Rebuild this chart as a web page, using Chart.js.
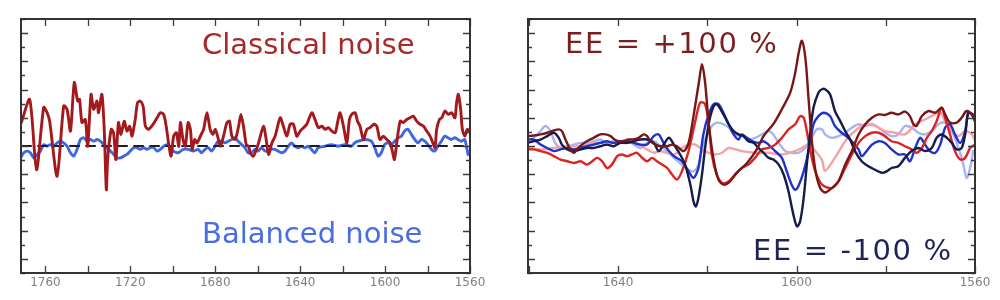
<!DOCTYPE html>
<html>
<head>
<meta charset="utf-8">
<script src="https://cdn.jsdelivr.net/npm/chart.js@4/dist/chart.umd.min.js"></script>
<style>
  html, body { margin: 0; padding: 0; background: #ffffff; }
  #wrap { position: relative; width: 1000px; height: 300px; overflow: hidden; background: #fff; }
  canvas { position: absolute; top: 0; }
  .lbl { position: absolute; font-family: "DejaVu Sans", sans-serif; font-size: 29px; line-height: 1; white-space: nowrap; }
  .ee { letter-spacing: 1.6px; }
</style>
</head>
<body>
<div id="wrap">
  <canvas id="left" width="500" height="300" style="left:0"></canvas>
  <canvas id="right" width="500" height="300" style="left:500px"></canvas>
  <div class="lbl" style="left:202px; top:30px; color:#a62a2a;">Classical noise</div>
  <div class="lbl" style="left:202px; top:219px; color:#4a6de0;">Balanced noise</div>
  <div class="lbl ee" style="left:565px; top:29px; color:#7a1e1e;">EE = +100 %</div>
  <div class="lbl ee" style="left:753px; top:236px; color:#1f2458;">EE = -100 %</div>
</div>
<script>
// ---------- Left panel data (wavenumber, arbitrary units) ----------
const classicalX = [1771.3,1767.4,1764.2,1760.8,1759.2,1758.0,1754.5,1751.4,1749.8,1748.2,1746.4,1744.8,1743.9,1742.8,1741.2,1740.1,1738.5,1737.3,1735.7,1735.0,1733.4,1732.3,1731.3,1730.7,1729.0,1727.9,1726.8,1725.6,1724.4,1722.9,1721.6,1720.3,1719.2,1717.7,1716.6,1715.3,1714.0,1712.9,1711.4,1709.3,1707.4,1705.9,1704.3,1703.1,1702.0,1700.8,1699.6,1698.3,1697.2,1696.4,1695.2,1694.1,1692.8,1691.7,1690.9,1689.7,1688.6,1687.0,1685.5,1683.9,1682.4,1681.1,1680.0,1678.9,1677.6,1676.1,1674.5,1673.3,1672.2,1670.6,1669.0,1667.9,1666.7,1665.4,1664.3,
  1663.5,1662.0,1659.6,1657.3,1656.0,1654.9,1653.3,1651.8,1649.4,1647.9,1646.3,1644.7,1643.2,1641.6,1640.0,1638.4,1636.9,1634.5,1633.0,1631.4,1629.8,1628.2,1626.7,1625.1,1623.5,1622.4,1621.2,1619.6,1618.0,1616.8,1615.7,1614.1,1613.0,1611.8,1610.2,1608.6,1607.1,1605.2,1603.9,1602.4,1600.8,1599.2,1597.6,1596.4,1595.6,1594.5,1592.9,1591.4,1589.8,1588.2,1586.7,1585.1,1583.5,1581.9,1580.4,1578.8,1577.5,1576.5,1575.7,1574.4,1573.3,1571.8,1570.2,1568.6,1567.1,1566.3,1565.5,1564.4,1563.6,1562.4,1561.3,1560.3];
const classicalY = [0.84,1.65,-0.84,1.37,1.18,0.88,-1.07,1.42,1.30,0.53,2.25,1.59,1.65,0.83,0.94,-0.01,1.83,1.30,1.59,1.18,1.83,0.59,-1.55,-0.48,0.59,0.47,-0.48,0.83,0.41,0.88,0.53,0.70,0.35,0.94,1.54,1.59,1.42,0.70,0.59,0.77,1.00,1.18,1.12,0.70,0.11,-0.36,0.35,0.47,-0.01,0.83,0.23,-0.01,0.83,0.59,-0.12,0.23,0.11,0.35,0.59,1.18,0.59,0.41,0.59,0.35,-0.01,0.35,0.83,0.88,0.35,0.23,0.70,1.12,0.70,0.05,-0.01,
  -0.24,-0.36,0.11,0.70,0.23,-0.30,0.11,0.35,1.00,0.70,0.35,0.77,0.77,0.35,0.53,0.65,0.77,1.18,0.94,0.65,0.70,0.59,0.65,0.53,0.47,0.83,1.18,0.70,0.11,0.94,1.12,1.18,0.88,0.70,0.23,0.59,0.65,0.77,0.70,0.23,0.35,0.23,0.11,-0.24,-0.48,0.11,0.88,0.83,0.94,1.00,1.06,0.88,0.77,0.70,0.53,0.35,0.11,-0.06,0.59,0.94,1.00,1.24,1.12,1.18,1.00,1.54,1.83,1.30,0.59,0.35,0.59,0.53];
const balancedX = [1771.8,1770.2,1768.6,1767.1,1765.5,1763.9,1762.4,1760.8,1759.2,1757.7,1756.1,1754.5,1752.9,1751.4,1749.8,1748.2,1746.7,1745.1,1743.5,1741.9,1740.4,1738.8,1737.2,1735.7,1734.1,1732.5,1731.0,1729.4,1727.8,1726.3,1724.7,1723.1,1721.6,1720.0,1718.4,1716.9,1715.3,1713.7,1712.2,1710.6,1709.0,1707.4,1705.9,1704.3,1702.7,1701.2,1699.8,1697.4,1695.1,1692.7,1690.4,1688.0,1686.5,1684.8,1683.3,1681.7,1680.1,1678.6,1677.0,1675.4,1673.9,1672.3,1670.7,1669.2,1667.6,1666.0,1664.5,1662.9,1661.3,1659.8,1658.2,1656.6,1655.1,1653.5,1651.9,1650.4,1648.8,1647.2,1645.6,1644.1,1642.5,1640.9,1639.4,1637.8,1636.2,1634.7,1633.1,1631.5,1628.4,1625.3,1622.1,1619.0,1615.9,1614.3,1612.7,1609.6,1606.5,1604.9,1603.3,1601.8,1600.2,1598.6,1597.0,1595.5,1593.9,1592.3,1590.8,1589.2,1587.6,1586.0,1584.5,1582.9,1581.3,1579.8,1578.2,1576.6,1575.1,1573.5,1571.9,1570.4,1568.8,1567.2,1565.6,1564.1,1562.5,1561.7,1560.9];
const balancedY = [-0.42,-0.24,-0.18,-0.24,-0.42,-0.30,-0.18,0.05,-0.01,0.05,-0.01,0.11,0.17,0.11,-0.01,-0.24,-0.36,-0.12,0.23,0.29,0.17,0.23,0.17,0.23,0.17,0.05,-0.06,-0.18,-0.30,-0.42,-0.42,-0.36,-0.30,-0.18,-0.06,-0.06,-0.12,-0.06,-0.12,-0.06,-0.06,-0.18,-0.12,-0.01,0.05,-0.06,-0.18,-0.24,-0.12,-0.12,-0.18,-0.12,-0.24,-0.12,-0.06,-0.18,-0.01,0.17,0.17,0.11,0.17,0.23,0.29,0.17,0.05,-0.06,-0.24,-0.24,-0.12,-0.18,-0.06,-0.18,-0.18,-0.12,-0.12,-0.18,-0.24,-0.18,-0.01,0.11,-0.01,-0.06,-0.01,-0.06,-0.01,-0.12,-0.24,-0.06,-0.01,0.05,-0.01,0.05,-0.01,0.11,0.17,0.23,0.17,-0.06,-0.36,-0.24,0.05,0.11,0.05,0.17,0.29,0.35,0.53,0.59,0.41,0.23,0.11,0.23,0.17,0.05,-0.12,-0.18,-0.01,0.17,0.35,0.29,0.23,0.29,0.23,0.17,0.23,-0.01,-0.30];
const baselineX = [1771, 1560];
const baselineY = [0, 0];

// ---------- Right panel data: [wavenumber, signal] ----------
const eePlus100 = [[1660.4,0.35],[1658.9,0.37],[1657.4,0.41],[1655.9,0.47],[1654.4,0.55],[1653.3,0.59],[1652.6,0.53],[1651.8,0.23],[1650.7,-0.12],[1649.9,-0.24],[1649.2,-0.12],[1648.1,0.05],[1647.0,0.17],[1645.5,0.29],[1644.0,0.41],[1642.8,0.41],[1641.7,0.35],[1640.8,0.23],[1639.9,0.17],[1638.7,0.17],[1637.6,0.23],[1636.5,0.23],[1635.4,0.29],[1634.3,0.41],[1633.5,0.35],[1632.8,0.17],[1631.6,0.05],[1630.5,-0.01],[1629.0,-0.01],[1627.9,0.05],[1626.8,-0.01],[1625.3,-0.18],[1624.2,0.11],[1623.1,1.06],[1621.9,2.25],[1621.2,2.90],[1620.5,2.25],[1619.7,0.82],[1618.6,-0.48],[1617.5,-1.19],[1616.3,-1.37],[1614.9,-1.25],[1613.4,-0.95],[1611.1,-0.60],[1608.9,-0.12],[1607.4,0.35],[1605.1,0.80],[1603.3,1.30],[1601.4,1.90],[1600.3,2.60],[1599.5,3.32],[1598.8,3.73],[1598.0,3.08],[1597.3,1.65],[1596.6,0.23],[1595.8,-0.84],[1594.7,-1.49],[1593.6,-1.65],[1592.1,-1.49],[1590.6,-1.25],[1589.1,-0.66],[1587.6,-0.18],[1586.1,0.41],[1584.6,0.77],[1583.1,1.00],[1581.6,1.12],[1580.2,1.10],[1578.7,1.18],[1577.2,1.12],[1575.7,1.22],[1574.6,1.06],[1573.8,0.77],[1573.1,0.71],[1571.9,1.06],[1570.4,1.24],[1568.9,1.18],[1567.5,1.36],[1566.7,1.12],[1565.6,0.83],[1564.1,0.83],[1563.0,1.00],[1561.9,1.24],[1560.7,1.12],[1560.0,0.88]];
const eePlus50 = [[1660.4,-0.12],[1658.9,-0.12],[1657.4,-0.18],[1655.9,-0.24],[1654.4,-0.36],[1652.9,-0.48],[1651.4,-0.54],[1649.9,-0.60],[1648.4,-0.54],[1647.0,-0.66],[1645.8,-0.54],[1644.7,-0.42],[1643.6,-0.54],[1642.5,-0.78],[1641.4,-0.66],[1640.2,-0.36],[1639.1,-0.30],[1638.0,-0.36],[1636.9,-0.30],[1635.8,-0.24],[1634.6,-0.42],[1633.5,-0.54],[1632.4,-0.42],[1631.3,-0.54],[1630.1,-0.66],[1629.0,-0.78],[1627.9,-1.01],[1626.8,-1.19],[1625.7,-0.90],[1624.2,-0.18],[1622.7,0.88],[1621.6,1.54],[1620.5,1.48],[1619.7,0.77],[1619.0,-0.30],[1617.9,-1.01],[1616.7,-1.31],[1615.2,-1.25],[1613.8,-1.01],[1612.3,-0.78],[1610.8,-0.66],[1609.3,-0.42],[1607.8,-0.12],[1606.3,-0.07],[1604.8,0.05],[1603.3,0.29],[1601.8,0.59],[1600.3,0.77],[1599.2,1.06],[1598.4,1.00],[1597.7,0.53],[1596.9,-0.18],[1595.8,-0.90],[1594.3,-1.37],[1592.1,-1.49],[1590.6,-1.25],[1589.1,-0.78],[1587.6,-0.30],[1586.1,0.11],[1584.6,0.35],[1583.1,0.47],[1581.6,0.47],[1580.2,0.35],[1578.7,0.17],[1577.2,0.11],[1575.7,-0.01],[1574.2,-0.12],[1573.1,-0.24],[1571.9,-0.07],[1570.8,0.29],[1569.7,0.53],[1568.6,0.88],[1567.5,1.36],[1566.7,1.00],[1565.6,0.41],[1564.5,-0.18],[1563.3,-0.48],[1562.2,-0.42],[1561.1,-0.07],[1560.0,0.05]];
const eePlus20 = [[1660.4,-0.07],[1657.4,-0.12],[1654.4,-0.07],[1651.4,-0.01],[1648.4,-0.01],[1645.5,0.11],[1642.5,0.11],[1639.5,0.17],[1636.5,0.11],[1633.5,-0.12],[1632.0,-0.24],[1630.5,-0.18],[1627.5,-0.30],[1625.7,-0.07],[1624.2,0.05],[1622.7,0.05],[1621.2,-0.12],[1619.7,-0.24],[1618.2,-0.30],[1616.7,-0.24],[1615.2,-0.07],[1612.3,-0.18],[1609.3,-0.24],[1606.3,-0.24],[1603.3,-0.30],[1600.3,-0.18],[1598.8,-0.07],[1597.3,0.05],[1595.8,-0.18],[1594.3,-0.50],[1593.6,-0.88],[1591.4,-0.42],[1589.1,0.17],[1586.9,0.53],[1584.6,0.77],[1582.4,0.71],[1580.2,0.53],[1577.9,0.47],[1575.7,0.41],[1573.4,0.77],[1571.2,0.94],[1569.7,1.06],[1567.8,1.18],[1566.7,0.88],[1565.2,0.53],[1563.7,0.35],[1562.2,0.53],[1560.7,0.41],[1560.0,0.17]];
const eeMinus100 = [[1660.4,0.11],[1658.9,0.17],[1657.4,0.23],[1655.9,0.35],[1654.4,0.47],[1653.3,0.29],[1652.6,0.05],[1651.4,-0.12],[1649.9,-0.18],[1648.4,-0.12],[1647.0,-0.07],[1645.5,-0.07],[1644.0,-0.01],[1642.5,0.05],[1641.0,-0.01],[1639.5,0.11],[1638.0,0.11],[1636.5,0.17],[1635.0,0.23],[1633.5,0.23],[1632.0,0.11],[1630.9,-0.18],[1629.8,0.05],[1628.6,0.29],[1627.5,0.05],[1626.1,-0.30],[1625.0,-0.66],[1623.8,-1.37],[1623.1,-1.96],[1622.6,-2.14],[1622.0,-1.84],[1621.2,-1.01],[1620.5,-0.07],[1619.7,0.77],[1619.0,1.24],[1618.2,1.48],[1617.5,1.42],[1616.4,1.12],[1615.2,0.77],[1614.1,0.53],[1613.0,0.41],[1611.9,0.35],[1610.8,0.17],[1609.6,0.11],[1608.5,-0.07],[1607.4,-0.24],[1606.3,-0.42],[1605.2,-0.48],[1604.0,-0.66],[1602.9,-1.01],[1601.8,-1.61],[1600.7,-2.44],[1599.9,-2.85],[1599.2,-2.67],[1598.4,-1.84],[1597.7,-0.66],[1596.9,0.53],[1596.2,1.36],[1595.1,1.89],[1594.3,2.01],[1593.6,2.01],[1592.5,1.83],[1591.4,1.24],[1590.2,0.88],[1589.1,0.53],[1588.0,0.23],[1586.9,-0.18],[1585.4,-0.54],[1583.9,-0.72],[1582.4,-0.84],[1580.9,-0.95],[1579.8,-0.90],[1578.7,-0.78],[1577.2,-0.72],[1575.7,-0.42],[1574.2,-0.18],[1572.7,-0.07],[1571.2,-0.18],[1569.7,-0.07],[1568.6,0.29],[1567.5,0.41],[1566.3,0.29],[1565.2,0.11],[1564.1,-0.12],[1563.0,-0.07],[1562.2,0.41],[1561.5,1.18],[1560.7,1.12],[1560.0,0.88]];
const eeMinus50 = [[1660.4,0.23],[1658.9,0.23],[1657.4,0.05],[1655.9,-0.07],[1654.4,-0.18],[1652.9,-0.12],[1651.4,-0.07],[1649.9,-0.12],[1648.4,-0.07],[1647.0,-0.01],[1645.5,0.05],[1644.0,0.11],[1642.5,0.17],[1641.0,0.11],[1639.5,0.17],[1638.0,0.17],[1636.5,0.11],[1635.0,0.05],[1633.5,0.05],[1632.0,0.35],[1630.9,0.41],[1629.8,0.11],[1628.6,-0.18],[1627.5,-0.36],[1625.7,-0.54],[1624.2,-0.90],[1623.1,-1.13],[1622.0,-0.78],[1620.9,0.41],[1619.7,1.12],[1618.6,1.48],[1617.5,1.48],[1616.4,1.18],[1615.2,0.77],[1614.1,0.41],[1613.0,0.23],[1612.3,0.41],[1611.1,0.29],[1610.0,0.17],[1608.5,0.11],[1607.4,0.17],[1606.3,0.05],[1604.8,-0.18],[1603.3,-0.42],[1602.2,-0.90],[1601.1,-1.37],[1600.3,-1.55],[1599.6,-1.43],[1598.4,-0.90],[1597.3,-0.18],[1596.2,0.77],[1595.1,1.06],[1593.9,1.18],[1592.5,1.06],[1591.4,0.71],[1589.9,0.47],[1588.4,0.29],[1587.3,0.11],[1586.1,-0.12],[1585.4,-0.36],[1584.3,-0.18],[1583.1,0.05],[1581.6,0.17],[1580.2,0.11],[1578.7,-0.12],[1577.2,-0.30],[1575.7,-0.30],[1574.6,-0.54],[1573.4,-0.07],[1572.3,0.29],[1571.2,0.05],[1570.1,-0.18],[1568.9,-0.24],[1567.8,0.05],[1566.7,0.65],[1565.6,0.77],[1564.5,0.41],[1563.3,0.11],[1562.2,0.53],[1561.5,1.18],[1560.4,1.12]];
const eeMinus20 = [[1660.4,0.17],[1658.9,0.29],[1657.4,0.53],[1656.3,0.71],[1655.2,0.53],[1654.1,0.11],[1652.9,-0.07],[1651.4,-0.01],[1649.9,0.05],[1648.4,0.11],[1647.0,0.11],[1645.5,0.17],[1644.0,0.23],[1642.5,0.11],[1641.0,0.17],[1639.5,0.11],[1638.0,0.23],[1636.5,0.05],[1635.0,-0.07],[1633.5,0.11],[1632.0,0.17],[1630.5,-0.01],[1629.0,-0.18],[1627.5,-0.42],[1625.7,-0.66],[1624.2,-0.84],[1623.1,-0.90],[1622.0,-0.66],[1620.9,0.05],[1619.7,0.53],[1618.6,0.77],[1617.5,0.83],[1616.4,0.77],[1615.2,0.65],[1613.8,0.41],[1612.3,0.35],[1610.8,0.23],[1609.3,0.29],[1607.8,0.41],[1606.3,0.53],[1605.2,0.41],[1604.0,0.11],[1602.5,-0.18],[1601.1,-0.24],[1599.6,-0.24],[1598.1,-0.07],[1596.6,0.29],[1595.5,0.59],[1594.3,0.59],[1593.6,0.41],[1592.1,0.29],[1590.6,0.35],[1589.1,0.47],[1587.6,0.65],[1586.1,0.77],[1584.6,0.71],[1583.1,0.77],[1581.6,0.65],[1580.2,0.47],[1578.7,0.35],[1577.2,0.41],[1575.7,0.71],[1574.2,0.65],[1572.7,0.47],[1571.2,0.41],[1569.7,0.53],[1568.2,0.77],[1566.7,0.83],[1565.2,0.53],[1563.7,-0.07],[1562.6,-0.66],[1561.9,-1.13],[1561.1,-0.78],[1560.4,-0.18]];

// ---------- axis ticks ----------
const leftTicks = [1560, 1580, 1600, 1620, 1640, 1660, 1680, 1700, 1720, 1740, 1760];
const rightTicks = [1560, 1580, 1600, 1620, 1640, 1660];
const labelledTicks = [1560, 1600, 1640, 1680, 1720, 1760];

// ---------- helpers ----------
const zipXY = (xs, ys) => xs.map((x, i) => ({ x: x, y: ys[i] }));
const pairsXY = (ps) => ps.map(p => ({ x: p[0], y: p[1] }));

const framePlugin = {
  id: 'frame',
  afterDatasetsDraw(chart) {
    const { ctx, chartArea: a, scales } = chart;
    const xs = scales.x, ys = scales.y;
    ctx.save();
    ctx.strokeStyle = '#3c3c3c';
    ctx.lineWidth = 1.3;
    ctx.beginPath();
    xs.ticks.forEach(t => {
      const px = Math.round(xs.getPixelForValue(t.value)) + 0.5;
      ctx.moveTo(px, a.bottom); ctx.lineTo(px, a.bottom - 7);
      ctx.moveTo(px, a.top); ctx.lineTo(px, a.top + 7);
    });
    for (let v = Math.ceil(ys.min * 2) / 2; v <= ys.max + 1e-9; v += 0.5) {
      const py = Math.round(ys.getPixelForValue(v)) + 0.5;
      const len = Math.abs(v - Math.round(v)) < 1e-9 ? 7 : 4;
      ctx.moveTo(a.left, py); ctx.lineTo(a.left + len, py);
      ctx.moveTo(a.right, py); ctx.lineTo(a.right - len, py);
    }
    ctx.stroke();
    ctx.lineWidth = 2;
    ctx.strokeStyle = '#333333';
    ctx.strokeRect(a.left, a.top, a.width, a.height);
    ctx.restore();
  }
};

function makeOptions(xMin, xMax, tickList, pad) {
  return {
    responsive: false,
    animation: false,
    events: [],
    layout: { padding: pad },
    plugins: { legend: { display: false }, tooltip: { enabled: false } },
    elements: {
      point: { radius: 0 },
      line: { tension: 0.3, borderCapStyle: 'round', borderJoinStyle: 'round' }
    },
    scales: {
      x: {
        type: 'linear', reverse: true, min: xMin, max: xMax,
        grid: { display: false, drawTicks: false },
        border: { display: false },
        afterBuildTicks: (s) => { s.ticks = tickList.map(v => ({ value: v })); },
        afterFit: (s) => { s.height = 27; },
        ticks: {
          autoSkip: false, maxRotation: 0,
          color: '#808080', padding: 3,
          font: { family: 'DejaVu Sans', size: 12 },
          callback: (v) => (labelledTicks.includes(v) ? String(v) : '')
        }
      },
      y: { type: 'linear', display: false, min: -4.5, max: 4.5 }
    }
  };
}

new Chart(document.getElementById('left'), {
  type: 'line',
  data: {
    datasets: [
      { data: zipXY(classicalX, classicalY), borderColor: '#a3191c', borderWidth: 2.9, tension: 0.25 },
      { data: zipXY(baselineX, baselineY), borderColor: '#1c1c30', borderWidth: 2, borderDash: [9, 7], tension: 0 },
      { data: zipXY(balancedX, balancedY), borderColor: '#4066e2', borderWidth: 2.9, tension: 0.25 }
    ]
  },
  options: makeOptions(1560, 1771.5, leftTicks, { left: 21, right: 30, top: 19, bottom: 0 }),
  plugins: [framePlugin]
});

new Chart(document.getElementById('right'), {
  type: 'line',
  data: {
    datasets: [
      { data: pairsXY(eePlus100), borderColor: '#7a1616', borderWidth: 2.4 },
      { data: pairsXY(eeMinus100), borderColor: '#161b4c', borderWidth: 2.4 },
      { data: pairsXY(eePlus50), borderColor: '#dc2424', borderWidth: 2.4 },
      { data: pairsXY(eeMinus50), borderColor: '#1f33c8', borderWidth: 2.4 },
      { data: pairsXY(eePlus20), borderColor: '#f2a3a3', borderWidth: 2.4 },
      { data: pairsXY(eeMinus20), borderColor: '#a6b4f2', borderWidth: 2.4 }
    ]
  },
  options: makeOptions(1560, 1660.2, rightTicks, { left: 28, right: 25, top: 19, bottom: 0 }),
  plugins: [framePlugin]
});
</script>
</body>
</html>
